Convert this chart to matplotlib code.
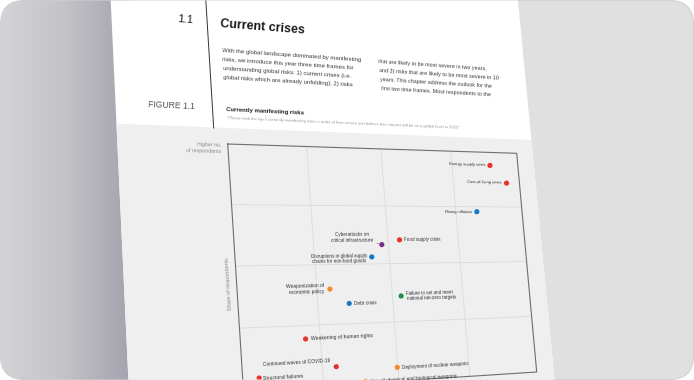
import numpy as np
import matplotlib
matplotlib.use("Agg")
import matplotlib.pyplot as plt
import matplotlib.transforms as mtransforms
from matplotlib.patches import Polygon, FancyBboxPatch
from matplotlib.colors import LinearSegmentedColormap

plt.rcParams['font.family'] = ['Liberation Sans', 'DejaVu Sans']

# chart data: position on the 4x4 grid (x to the right, y = share of respondents)
risks = ["Energy supply crisis", "Cost-of-living crisis", "Rising inflation",
         "Food supply crisis", "Cyberattacks on\ncritical infrastructure",
         "Disruptions in global supply\nchains for non-food goods",
         "Weaponization of\neconomic policy", "Debt crisis",
         "Failure to set and meet\nnational net-zero targets",
         "Weakening of human rights", "Continued waves of COVID-19",
         "Deployment of nuclear weapons", "Structural failures",
         "Use of chemical and biological weapons"]
x_vals = [3.57, 3.80, 3.31, 2.16, 1.91, 1.76, 1.17, 1.41, 2.12, 0.81, 1.18, 1.99, 0.20, 1.55]
y_vals = [3.76, 3.44, 2.91, 2.41, 2.33, 2.12, 1.59, 1.34, 1.44, 0.78, 0.30, 0.23, 0.19, 0.03]
categories = ["Societal", "Societal", "Economic", "Societal", "Technological", "Economic",
              "Geopolitical", "Economic", "Environmental", "Societal", "Societal",
              "Geopolitical", "Societal", "Geopolitical"]
cat_colors = {"Economic": "#1479c9", "Environmental": "#1e8f4e", "Geopolitical": "#f28c28",
              "Societal": "#e8332a", "Technological": "#7b2d8e"}

para_left = ["With the global landscape dominated by manifesting",
             "risks, we introduce this year three time frames for",
             "understanding global risks: 1) current crises (i.e.",
             "global risks which are already unfolding), 2) risks"]
para_right = ["that are likely to be most severe in two years,",
              "and 3) risks that are likely to be most severe in 10",
              "years. This chapter address the outlook for the",
              "first two time frames. Most respondents to the"]

W, H = 694, 380


def homography(src, dst):
    A, b = [], []
    for (u, v), (x, y) in zip(src, dst):
        A.append([u, v, 1, 0, 0, 0, -u * x, -v * x]); b.append(x)
        A.append([0, 0, 0, u, v, 1, -u * y, -v * y]); b.append(y)
    h = np.linalg.solve(np.array(A, float), np.array(b, float))
    return np.append(h, 1).reshape(3, 3)


class Persp(mtransforms.Transform):
    input_dims = output_dims = 2
    is_separable = False
    has_inverse = True

    def __init__(self, M):
        super().__init__()
        self.M = M

    def transform_non_affine(self, values):
        v = np.asarray(values, float).reshape(-1, 2)
        p = np.c_[v, np.ones(len(v))] @ self.M.T
        return p[:, :2] / p[:, 2:3]

    def inverted(self):
        return Persp(np.linalg.inv(self.M))


# the photographed page: grid corners -> pixel positions (y up)
M = homography([(0, 4), (4, 4), (4, 0), (0, 0)],
               [(227.7, H - 144), (516.7, H - 153.3), (536.7, H - 372), (243.5, H - 391)])
P = Persp(M)


def local(xd, yd, eps=0.02):
    p0, p1 = P.transform(np.array([[xd, yd], [xd + eps, yd]]))
    d = p1 - p0
    return np.degrees(np.arctan2(d[1], d[0])), np.hypot(*d) / eps


fig = plt.figure(figsize=(W / 100, H / 100), dpi=100)
ax = fig.add_axes([0, 0, 1, 1])
ax.axis('off')
T = P + ax.transData

bg = FancyBboxPatch((0.5, 0.5), W - 1, H - 1, boxstyle="round,pad=0,rounding_size=24",
                    fc='#e0e0e0', ec='#d2d2d2', lw=0.8, zorder=0)
ax.add_patch(bg)
cm = LinearSegmentedColormap.from_list('side', ['#d4d4d7', '#c3c3c8', '#a4a3ae'])
ax.imshow(np.linspace(0, 1, 256)[None, :], extent=[0, 130, 0, H], cmap=cm,
          aspect='auto', zorder=0.5, interpolation='bilinear')


def img(pts):
    return [(x, H - y) for x, y in pts]


ax.add_patch(Polygon(img([(110.6, -2), (517.7, -2), (554.8, 382), (128.5, 382)]),
                     fc='white', ec='none', zorder=1))
ax.add_patch(Polygon(img([(116.4, 123.6), (531.4, 140), (554.8, 382), (128.5, 382)]),
                     fc='#efefef', ec='none', zorder=2))
ax.plot([205.8, 213.7], [H, H - 128], color='#333333', lw=0.7, zorder=3)


def page_text(xi, yi, s, **kw):
    xd, yd = P.inverted().transform(np.array([[xi, H - yi]]))[0]
    ang, _ = local(xd, yd)
    ax.text(xi, H - yi, s, rotation=ang, rotation_mode='anchor', zorder=6, **kw)


page_text(193.3, 23.5, "1.1", ha='right', va='baseline', fontsize=8.2, color='#222222')
page_text(220.5, 27, "Current crises", ha='left', va='baseline', fontsize=9.0,
          fontweight='bold', color='#1a1a1a')
for i, line in enumerate(para_left):
    page_text(221.7 + 0.5 * i, 50.5 + 9 * i, line, ha='left', va='center', fontsize=4.3, color='#3c3c3c')
for i, line in enumerate(para_right):
    page_text(378.3 + 0.8 * i, 62 + 9 * i, line, ha='left', va='center', fontsize=3.9, color='#3c3c3c')
page_text(148.3, 105, "FIGURE 1.1", ha='left', va='center', fontsize=6.2, color='#555555')
page_text(226.3, 109.5, "Currently manifesting risks", ha='left', va='center', fontsize=4.3,
          fontweight='bold', color='#222222')
page_text(226.7, 118.5, "\u201cPlease rank the top 5 currently manifesting risks in order of how severe you "
          "believe their impact will be on a global level in 2023\u201d",
          ha='left', va='center', fontsize=3.0, color='#9a9a9a')
page_text(221.7, 148, "Higher no.\nof respondents", ha='right', va='center', fontsize=3.8,
          color='#8c8c8c', multialignment='right', linespacing=1.3)

# axis title along the left edge
xd0, yd0 = P.inverted().transform(np.array([[228.5, H - 284]]))[0]
p0, p1 = P.transform(np.array([[xd0, yd0], [xd0, yd0 + 0.05]]))
ang_v = np.degrees(np.arctan2(p1[1] - p0[1], p1[0] - p0[0]))
ax.text(228.5, H - 284, "Share of respondents", rotation=ang_v, rotation_mode='anchor',
        ha='center', va='center', fontsize=4.0, color='#8c8c8c', zorder=6)

# grid and frame
for k in [1, 2, 3]:
    ax.plot([k, k], [0, 4], transform=T, color='#d8d8d8', lw=0.5, zorder=3)
    ax.plot([0, 4], [k, k], transform=T, color='#d8d8d8', lw=0.5, zorder=3)
ax.plot([0, 4, 4, 0, 0], [4, 4, 0, 0, 4], transform=T, color='#6e6e6e', lw=0.8, zorder=4)

ax.scatter(x_vals, y_vals, s=14, c=[cat_colors[c] for c in categories], transform=T,
           linewidths=0, zorder=5)

# label placement: side, offset (points), line alignment, leader line
label_pos = [('right', -3, 0, 'right', False), ('right', -3.5, 0, 'right', False),
             ('right', -3.5, 0, 'right', False), ('left', 3.5, 0, 'left', False),
             ('right', -6, 5.5, 'center', True), ('right', -3, -1, 'center', False),
             ('right', -4, 0.5, 'right', False), ('left', 3.5, 0, 'left', False),
             ('left', 3.8, 0, 'left', False), ('left', 3.6, 0, 'left', False),
             ('right', -4.5, 4.2, 'right', True), ('left', 3.6, 0, 'left', False),
             ('left', 3, 0, 'left', False), ('left', 3.6, 0, 'left', False)]
ref = local(2, 2)[1]
for name, xv, yv, (ha, dx, dy, ma, lead) in zip(risks, x_vals, y_vals, label_pos):
    ang, sc = local(xv, yv)
    arrow = dict(arrowstyle='-', color='#555555', lw=0.4, shrinkA=0.5, shrinkB=2.5) if lead else None
    ax.annotate(name, (xv, yv), xycoords=T, xytext=(dx, dy), textcoords='offset points',
                ha=ha, va='center', multialignment=ma, fontsize=3.3 * sc / ref,
                rotation=ang, rotation_mode='anchor', color='#333333', linespacing=1.15,
                arrowprops=arrow, zorder=6)

for a in ax.get_children():
    if a is not bg:
        a.set_clip_path(bg)

ax.set_xlim(0, W)
ax.set_ylim(0, H)
fig.savefig("out.png", dpi=100, facecolor='white')
